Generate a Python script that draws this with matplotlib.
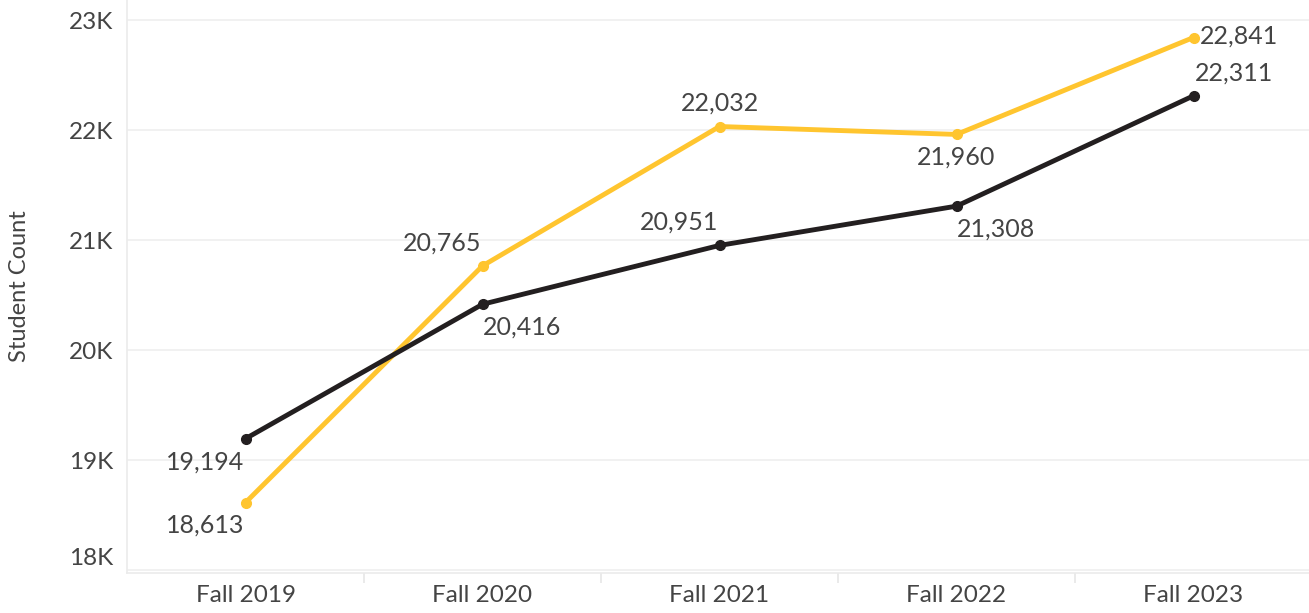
import numpy as np
import matplotlib.pyplot as plt
import matplotlib.transforms as mtransforms
from matplotlib.ticker import FixedLocator, FuncFormatter

plt.rcParams['font.family'] = ['Lato', 'DejaVu Sans']

terms = ["Fall 2019", "Fall 2020", "Fall 2021", "Fall 2022", "Fall 2023"]
yellow_vals = [18613, 20765, 22032, 21960, 22841]
black_vals = [19194, 20416, 20951, 21308, 22311]
yticks = [18000, 19000, 20000, 21000, 22000, 23000]

# label offsets in pixels (dx, dy, ha)
yellow_off = [(-40, -22, 'center'), (-40, 23, 'center'), (0, 23, 'center'),
              (0, -23, 'center'), (6, 1, 'left')]
black_off = [(-40, -23, 'center'), (40, -23, 'center'), (-40, 23, 'center'),
             (40, -23, 'center'), (40, 23, 'center')]

YEL = '#FFC52F'
BLK = '#231F20'
TXT = '#444444'

fig = plt.figure(figsize=(13.09, 6.13), dpi=100)
ax = fig.add_axes([127 / 1309, 40 / 613, 1185 / 1309, 573 / 613])

x = np.arange(len(terms))
ax.plot(x, yellow_vals, color=YEL, lw=3.5, marker='o', ms=7, zorder=3)
ax.plot(x, black_vals, color=BLK, lw=3.5, marker='o', ms=7, zorder=3)

for i, v in enumerate(yellow_vals):
    dx, dy, ha = yellow_off[i]
    ax.annotate(f"{v:,}", (x[i], v), xytext=(dx, dy), textcoords='offset pixels',
                ha=ha, va='center', fontsize=18, color=TXT)
for i, v in enumerate(black_vals):
    dx, dy, ha = black_off[i]
    ax.annotate(f"{v:,}", (x[i], v), xytext=(dx, dy), textcoords='offset pixels',
                ha=ha, va='center', fontsize=18, color=TXT)

ax.set_xlim(-0.5, 4.5)
ax.set_ylim(17973, 23182)
ax.set_yticks(yticks)
ax.yaxis.set_major_formatter(FuncFormatter(lambda v, p: f"{int(v / 1000)}K"))
ax.set_xticks(x)
ax.set_xticklabels(terms)
ax.xaxis.set_minor_locator(FixedLocator(np.arange(0.5, 4.5, 1)))

ax.grid(axis='y', color='#EFEFEF', lw=1.2)
ax.set_axisbelow(True)
for s in ['top', 'right']:
    ax.spines[s].set_visible(False)
for s in ['left', 'bottom']:
    ax.spines[s].set_color('#EBEBEB')
    ax.spines[s].set_linewidth(1.2)

ax.tick_params(axis='y', length=0, labelsize=17.5, labelcolor=TXT, pad=10)
ax.tick_params(axis='x', which='major', length=0, labelsize=17.5, labelcolor=TXT, pad=9)
ax.tick_params(axis='x', which='minor', length=7, color='#E6E6E6', width=1.2)

# bottom tick label sits a bit above its gridline
lab18 = ax.get_yticklabels()[0]
lab18.set_transform(lab18.get_transform() +
                    mtransforms.ScaledTranslation(0, 14 / 100, fig.dpi_scale_trans))

ax.set_ylabel("Student Count", fontsize=17, color=TXT, labelpad=28)

fig.savefig("out.png", dpi=100)
